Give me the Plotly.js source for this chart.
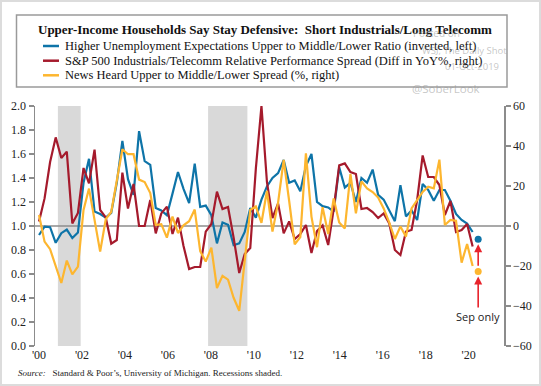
<!DOCTYPE html>
<html>
<head>
<meta charset="utf-8">
<script src="https://cdn.plot.ly/plotly-3.0.1.min.js"></script>
<style>
  html, body { margin: 0; padding: 0; background: #ffffff; }
  #wrap { position: relative; width: 541px; height: 386px; }
  #chart { width: 541px; height: 386px; }
  #frame { position: absolute; left: 0; top: 0; width: 541px; height: 386px;
           box-sizing: border-box; border: 2px solid #dcdcdc; pointer-events: none; }
</style>
</head>
<body>
<div id="wrap"><div id="chart"></div><div id="frame"></div></div>
<script>
// Quarterly observations, first quarter of 2000 through the third quarter of 2019.
const START_YEAR = 2000;

// Higher unemployment expectations, upper to middle/lower income ratio (inverted, left axis)
const unemploymentRatio = [
  0.925, 0.995, 0.99, 0.86, 0.94, 0.97, 0.90, 0.945, 1.36, 1.56,
  1.12, 1.10, 1.07, 1.11, 1.36, 1.71, 1.39, 1.26, 1.79, 1.54,
  1.51, 1.15, 1.13, 1.09, 1.27, 1.45, 1.31, 1.19, 1.52, 1.16,
  1.17, 1.09, 0.855, 1.03, 1.01, 0.84, 0.855, 0.95, 1.15, 1.07,
  1.22, 1.33, 1.40, 1.44, 1.55, 1.36, 1.38, 1.29, 1.50, 1.60,
  1.20, 1.165, 1.155, 1.12, 1.49, 1.32, 1.36, 1.20, 1.40, 1.36,
  1.47, 1.26, 1.22, 1.13, 1.04, 1.34, 1.08, 1.13, 1.05, 1.35,
  1.30, 1.21, 1.30, 1.30, 1.21, 1.10, 1.05, 1.02, 0.95
];

// S&P 500 Industrials/Telecomm relative performance spread (diff in YoY %, right axis)
const industrialsTelecomSpread = [
  2.2, 13.8, 32, 44.3, 34, 37.2, 1.3, 6.5, 29, 21.3,
  38.2, 8, 4.3, -8.8, -7, 26.7, 8.7, 21, 0, 0,
  13, -3.7, 6.3, 9.7, -4, 4.2, -10, -21.5, -20.5, -20.5,
  -2.8, 1, 17.2, 8.5, 9.5, -5.8, -23.5, -14, -11, 28.8,
  60, 22, 4, 11.3, -3.7, 2.3, -6.5, -4, 0.5, -13.5,
  -2.5, 0.3, -9.5, 8.5, 30.3, 31.3, 27, 26, 8.5, 9,
  7, 4, 6.3, 1.3, -12, -14.5, -2.8, -2, 13, 35.3,
  24.5, 24.5, 20.5, 5.5, 12.5, -3, -2, 1, -10.3
];

// News heard, upper to middle/lower income spread (%, right axis)
const newsHeardSpread = [
  5.5, -7.8, -11.6, -19.5, -28.5, -17.3, -24.2, -20.3, 8, 18.7,
  2.6, -12.8, 3.4, 7, 22.6, 38.4, 35.9, 35.9, 23.2, 22,
  16.5, 0.5, 0.9, -5.8, 4.7, -3.5, 0.3, 2.4, 8.2, -12.6,
  -17.8, -10.8, -31, -24.9, -26.8, -35.9, -42.4, -18.6, 8, 9.8,
  1.6, 17.5, -2.8, 11.7, 33, 12.5, -9.2, -5.5, 36.3, 4.7,
  -10.6, 9.4, -4, 13.8, 1.8, -1.2, 26, 6.3, 22.3, 18.8,
  17, 14.2, 8.8, 1.7, -6.5, -0.2, -5.3, 8.8, 13, 17,
  19.6, 18.8, 33.2, 0.5, 3, 2.6, -18.3, -9, -20
];

// September 2019 single-month readings
const sepDate = ['2019-09-30'];
const sepUnemploymentRatio = [0.89];
const sepNewsHeard = [-22.8];

// Year labels along the bottom and recession periods (decimal years)
const yearTicks = [2000, 2002, 2004, 2006, 2008, 2010, 2012, 2014, 2016, 2018, 2020];
const yearLabels = ["'00", "'02", "'04", "'06", "'08", "'10", "'12", "'14", "'16", "'18", "'20"];
const recessions = [[2000.88, 2001.94], [2007.87, 2009.70]];

const leftTicks = [0, 0.2, 0.4, 0.6, 0.8, 1.0, 1.2, 1.4, 1.6, 1.8, 2.0];
const rightTicks = [-60, -40, -20, 0, 20, 40, 60];

const BLUE = '#0e74a8', RED = '#a51a2c', GOLD = '#fdb62f', ARROW = '#e8232b';
const SERIF = '"Liberation Serif", "Times New Roman", serif';
const SANS = '"Open Sans", "Noto Sans", sans-serif';

function pad(n) { return (n < 10 ? '0' : '') + n; }
const quarterDates = unemploymentRatio.map((_, i) =>
  (START_YEAR + Math.floor(i / 4)) + '-' + pad(1 + 3 * (i % 4)) + '-01');

// page geometry helpers (pixel -> paper fraction)
const W = 541, H = 386, ML = 35, MR = 37, MT = 106, MB = 40;
const PW = W - ML - MR, PH = H - MT - MB;
const fx = px => (px - ML) / PW;
const fy = py => (H - MB - py) / PH;

const traces = [
  { x: quarterDates, y: unemploymentRatio, xaxis: 'x', yaxis: 'y', type: 'scatter', mode: 'lines',
    line: { color: BLUE, width: 2.2 }, name: 'Higher Unemployment Expectations' },
  { x: quarterDates, y: industrialsTelecomSpread, xaxis: 'x', yaxis: 'y2', type: 'scatter', mode: 'lines',
    line: { color: RED, width: 2.2 }, name: 'S&P 500 Industrials/Telecomm' },
  { x: quarterDates, y: newsHeardSpread, xaxis: 'x', yaxis: 'y2', type: 'scatter', mode: 'lines',
    line: { color: GOLD, width: 2.2 }, name: 'News Heard' },
  { x: sepDate, y: sepUnemploymentRatio, xaxis: 'x', yaxis: 'y', type: 'scatter', mode: 'markers',
    marker: { color: BLUE, size: 7 }, name: 'Sep (unemployment)' },
  { x: sepDate, y: sepNewsHeard, xaxis: 'x', yaxis: 'y2', type: 'scatter', mode: 'markers',
    marker: { color: GOLD, size: 7 }, name: 'Sep (news)' },
  { x: [yearTicks[0]], y: [null], xaxis: 'x2', yaxis: 'y', type: 'scatter', mode: 'lines',
    hoverinfo: 'skip', name: 'years' }
];

const axisLine = '#8c8c8c';
const tickFont = { family: SERIF, size: 12, color: '#222' };

const shapes = [];
recessions.forEach(r => shapes.push({
  type: 'rect', xref: 'x2', yref: 'paper', x0: r[0], x1: r[1], y0: 0, y1: 1,
  fillcolor: '#d9d9d9', line: { width: 0 }, layer: 'below'
}));
shapes.push({ type: 'line', xref: 'paper', yref: 'y', x0: 0, x1: 1, y0: 1, y1: 1,
  line: { color: axisLine, width: 1.5 }, layer: 'below' });
// header box
shapes.push({ type: 'rect', xref: 'paper', yref: 'paper',
  x0: fx(16.5), x1: fx(507), y0: fy(87), y1: fy(15),
  line: { color: '#9a9a9a', width: 1.5 }, fillcolor: 'rgba(0,0,0,0)' });

const legendItems = [
  { color: BLUE, text: 'Higher Unemployment Expectations Upper to Middle/Lower Ratio (inverted, left)', y: 46 },
  { color: RED, text: 'S&P 500 Industrials/Telecomm Relative Performance Spread (Diff in YoY%, right)', y: 60.7 },
  { color: GOLD, text: 'News Heard Upper to Middle/Lower Spread (%, right)', y: 75.3 }
];

const annotations = [
  { xref: 'paper', yref: 'paper', x: fx(264.5), y: fy(29.5), xanchor: 'center', yanchor: 'middle',
    showarrow: false, text: '<b>Upper-Income Households Say Stay Defensive:&nbsp; Short Industrials/Long Telecomm</b>',
    font: { family: SERIF, size: 13, color: '#111' } }
];
legendItems.forEach(it => {
  shapes.push({ type: 'line', xref: 'paper', yref: 'paper', x0: fx(43), x1: fx(59),
    y0: fy(it.y), y1: fy(it.y), line: { color: it.color, width: 2.5 } });
  annotations.push({ xref: 'paper', yref: 'paper', x: fx(63), y: fy(it.y), xanchor: 'left', yanchor: 'middle',
    showarrow: false, text: it.text, font: { family: SERIF, size: 12.5, color: '#111' } });
});

// posting stamp
[
  { t: 'Posted on', x: 411, y: 33, s: 10 },
  { t: 'WSJ, The Daily Shot', x: 420, y: 51, s: 9.5 },
  { t: '01-Oct-2019', x: 443, y: 67, s: 9.5 },
  { t: '@SoberLook', x: 410, y: 88, s: 11.5 }
].forEach(w => annotations.push({
  xref: 'paper', yref: 'paper', x: fx(w.x), y: fy(w.y), xanchor: 'left', yanchor: 'middle',
  showarrow: false, text: w.t, font: { family: SANS, size: w.s, color: 'rgba(150,150,150,0.55)' }
}));

// Sep-only callouts
annotations.push({ xref: 'x', yref: 'y2', x: sepDate[0], y: sepNewsHeard[0], ax: 0, ay: 45,
  text: 'Sep only', showarrow: true, arrowcolor: ARROW, arrowwidth: 1.6, arrowhead: 2, arrowsize: 1,
  standoff: 5, font: { family: SANS, size: 11, color: '#222' } });
annotations.push({ xref: 'x', yref: 'y', x: sepDate[0], y: sepUnemploymentRatio[0], ax: 0, ay: 28,
  text: '', showarrow: true, arrowcolor: ARROW, arrowwidth: 1.6, arrowhead: 2, arrowsize: 1,
  standoff: 5 });

// source line
annotations.push({ xref: 'paper', yref: 'paper', x: fx(16), y: fy(373), xanchor: 'left', yanchor: 'middle',
  showarrow: false, text: '<i>Source:</i>&nbsp;&nbsp; Standard &amp; Poor’s, University of Michigan. Recessions shaded.',
  font: { family: SERIF, size: 9, color: '#222' } });

const layout = {
  width: W, height: H,
  margin: { l: ML, r: MR, t: MT, b: MB, pad: 0 },
  paper_bgcolor: '#ffffff', plot_bgcolor: '#ffffff',
  showlegend: false,
  xaxis: { type: 'date', range: ['1999-10-27', '2020-11-27'], visible: false, fixedrange: true },
  xaxis2: { type: 'linear', overlaying: 'x', anchor: 'y', side: 'bottom', range: [1999.814, 2021.643],
    tickmode: 'array', tickvals: yearTicks, ticktext: yearLabels, ticks: '', showline: false,
    showgrid: false, zeroline: false, tickfont: tickFont },
  yaxis: { range: [0, 2], tickmode: 'array', tickvals: leftTicks, tickformat: '.1f',
    ticks: 'outside', ticklen: 5, tickwidth: 1.5, tickcolor: axisLine,
    showline: true, linecolor: axisLine, linewidth: 1.5, showgrid: false, zeroline: false,
    tickfont: tickFont },
  yaxis2: { range: [-60, 60], overlaying: 'y', side: 'right', anchor: 'x', tickmode: 'array', tickvals: rightTicks,
    ticks: 'outside', ticklen: 5, tickwidth: 1.5, tickcolor: axisLine,
    showline: true, linecolor: axisLine, linewidth: 1.5, showgrid: false, zeroline: false,
    tickfont: tickFont },
  shapes: shapes,
  annotations: annotations
};

Plotly.newPlot('chart', traces, layout, { staticPlot: true, displayModeBar: false });
</script>
</body>
</html>
